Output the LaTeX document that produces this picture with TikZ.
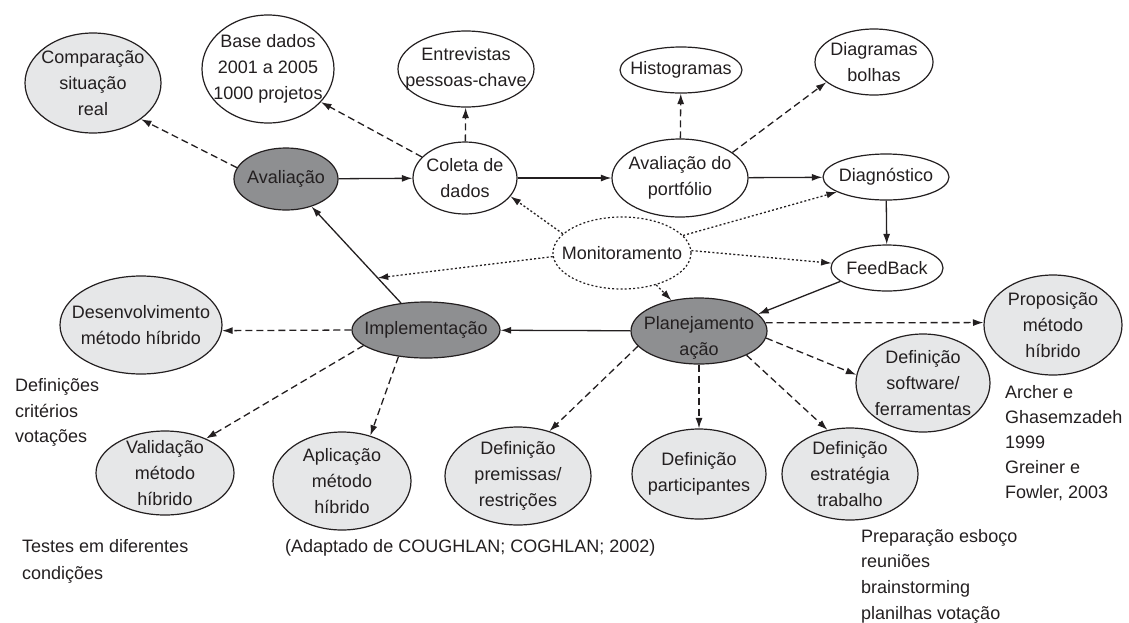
\documentclass[tikz,border=0pt]{standalone}
\usepackage{fontspec}
\setmainfont{Liberation Sans}
\usetikzlibrary{shapes.geometric,arrows.meta,calc}
\definecolor{ink}{HTML}{231F20}
\definecolor{darkfill}{HTML}{8E8F91}
\definecolor{lightfill}{HTML}{E6E7E8}
\begin{document}
\begin{tikzpicture}[x=1pt,y=-1pt,
  every node/.style={font=\fontsize{18}{26}\selectfont, text=ink},
  el/.style={ellipse, draw=ink, line width=1.2pt, inner sep=-15pt, align=center, fill=white},
  eldark/.style={el, fill=darkfill},
  ellight/.style={el, fill=lightfill},
  eldot/.style={el, dash pattern=on 2pt off 2.2pt},
  sz/.style 2 args={minimum width=#1pt, minimum height=#2pt},
  arr/.style={draw=ink, line width=1.3pt, -{Latex[length=10.5pt,width=7pt]}},
  dsh/.style={arr, dash pattern=on 7pt off 4pt},
  dot/.style={arr, dash pattern=on 2pt off 2.2pt},
  txt/.style={align=left, anchor=west, inner sep=0pt}
]
\useasboundingbox (0,0) rectangle (1129,622);

% nodes
\node[ellight, sz={136}{100}] (comp) at (93,83) {Comparação\\situação\\real};
\node[el, sz={132}{108}] (base) at (268,69) {Base dados\\2001 a 2005\\1000 projetos};
\node[eldark, sz={104}{62}] (aval) at (286,179) {Avaliação};
\node[el, sz={136}{76}] (entr) at (466,69) {Entrevistas\\pessoas-chave};
\node[el, sz={104}{72}] (coleta) at (465,178) {Coleta de\\dados};
\node[el, sz={122}{46}] (hist) at (681,70) {Histogramas};
\node[el, sz={136}{78}] (avport) at (680,178) {Avaliação do\\portfólio};
\node[el, sz={118}{66}] (diagb) at (874,62) {Diagramas\\bolhas};
\node[el, sz={126}{46}] (diagn) at (886,177) {Diagnóstico};
\node[el, sz={112}{46}] (feed) at (887,268) {FeedBack};
\node[eldot, sz={138}{72}] (mon) at (622,253) {Monitoramento};
\node[eldark, sz={148}{56}] (impl) at (426,330) {Implementação};
\node[eldark, sz={136}{66}] (plan) at (699,331) {\raisebox{-6pt}[\height][\depth]{\begin{tabular}{@{}c@{}}Planejamento\\ação\end{tabular}}};
\node[ellight, sz={162}{98}] (desenv) at (141,325) {Desenvolvimento\\método híbrido};
\node[ellight, sz={138}{100}] (prop) at (1053,325) {Proposição\\método\\híbrido};
\node[ellight, sz={134}{98}] (soft) at (923,383) {Definição\\software/\\ferramentas};
\node[ellight, sz={134}{90}] (part) at (699,474) {Definição\\participantes};
\node[ellight, sz={136}{92}] (estr) at (850,474) {Definição\\estratégia\\trabalho};
\node[ellight, sz={146}{98}] (prem) at (518,476) {Definição\\premissas/\\restrições};
\node[ellight, sz={138}{98}] (apl) at (342,481) {Aplicação\\método\\híbrido};
\node[ellight, sz={138}{84}] (valid) at (165,473) {Validação\\método\\híbrido};

% free texts
\node[txt, font=\fontsize{18}{25.5}\selectfont] (t1) at (15,412.5) {Definições\\critérios\\votações};
\node[txt, font=\fontsize{18}{27}\selectfont] (t2) at (22,561.5) {Testes em diferentes\\condições};
\node[txt] (t3) at (285,548) {(Adaptado de COUGHLAN; COGHLAN; 2002)};
\node[txt, font=\fontsize{18}{25}\selectfont] (t4) at (1005,443) {Archer e\\Ghasemzadeh\\1999\\Greiner e\\Fowler, 2003};
\node[txt, font=\fontsize{18}{25.7}\selectfont] (t5) at (861,576) {Preparação esboço\\reuniões\\brainstorming\\planilhas votação};

\coordinate (mid) at ($(impl)!0.345!(aval)$);

% solid
\draw[arr] (aval) -- (coleta);
\draw[arr] (coleta) -- (avport);
\draw[arr] (avport) -- (diagn);
\draw[arr] (diagn) -- (feed);
\draw[arr] (feed.196) -- (plan.16);
\draw[arr] (plan) -- (impl);
\draw[arr] (impl) -- (aval);

% dashed
\draw[dsh] (aval.167) -- (comp.-37);
\draw[dsh] (coleta.154) -- (base.-32.5);
\draw[dsh] (coleta) -- (entr);
\draw[dsh] (avport) -- (hist);
\draw[dsh] (avport.26) -- (diagb.203);
\draw[dsh] (impl.west) -- (desenv.-4);
\draw[dsh] (impl.194.5) -- (valid.40.5);
\draw[dsh] (impl.224) -- (apl.58.5);
\draw[dsh] (plan.194.5) -- (prem.55);
\draw[dsh] (plan) -- (part);
\draw[dsh] (plan.-27) -- (estr.117.6);
\draw[dsh] (plan.-6) -- (soft.173);
\draw[dsh] (plan.7) -- (prop.178);

% dotted
\draw[dot] (mon.162) -- (coleta.-22);
\draw[dot] (mon.16) -- (diagn.197);
\draw[dot] (mon.2.5) -- (feed.175);
\draw[dot] (mon.-43) -- (plan.132);
\draw[dot] (mon.183) -- (mid);
\end{tikzpicture}
\end{document}
